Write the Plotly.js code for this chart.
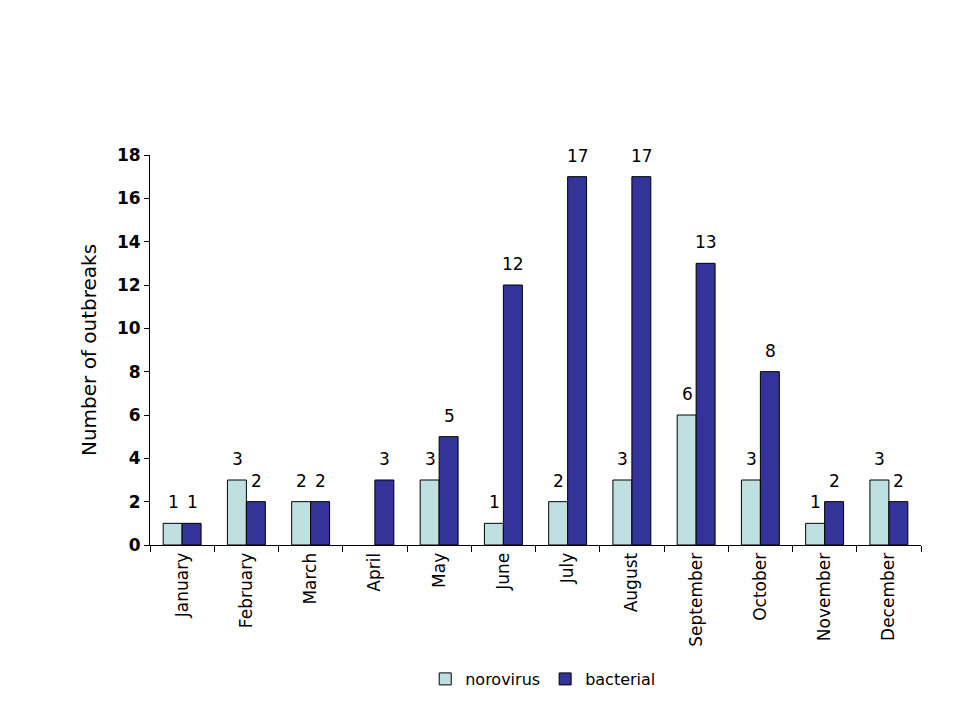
<!DOCTYPE html>
<html><head><meta charset="utf-8">
<script src="https://cdn.plot.ly/plotly-3.0.1.min.js"></script>
<style>body{margin:0;background:#fff}#c{width:960px;height:720px}</style>
</head><body><div id="c"></div>
<script>
const months = ["January","February","March","April","May","June","July","August","September","October","November","December"];
const norovirus = [1,3,2,null,3,1,2,3,6,3,1,3];
const bacterial = [1,2,2,3,5,12,17,17,13,8,2,2];
const yTicks = [0,2,4,6,8,10,12,14,16,18];

const font = "DejaVu Sans, Arial, sans-serif";
const traces = [
  {type:"bar", name:"norovirus", x:months, y:norovirus,
   marker:{color:"#BFE0E0", line:{color:"#000", width:1}}},
  {type:"bar", name:"bacterial", x:months, y:bacterial,
   marker:{color:"#333399", line:{color:"#000", width:1}}}
];
const annotations = [];
[[norovirus,-9.5],[bacterial,9.5]].forEach(([arr,dx])=>{
  arr.forEach((v,i)=>{
    if(v===null) return;
    annotations.push({x:months[i], y:v, xref:"x", yref:"y", text:String(v),
      showarrow:false, xshift:dx+0.5, yshift:9, yanchor:"bottom",
      font:{family:font, size:17, color:"#000"}});
  });
});
const layout = {
  width:960, height:720,
  margin:{l:150, r:39, t:155, b:175},
  paper_bgcolor:"#fff", plot_bgcolor:"#fff",
  barmode:"group", bargap:0.41, bargroupgap:0,
  showlegend:true,
  legend:{orientation:"h", x:0.51, xanchor:"center", y:-0.3, yanchor:"top",
    font:{family:font, size:16, color:"#000"}, itemwidth:30, tracegroupgap:0},
  xaxis:{type:"category", showline:true, linecolor:"#000", linewidth:1,
    ticks:"outside", tickson:"boundaries", ticklen:6, tickcolor:"#000",
    tickangle:-90, tickfont:{family:font, size:17, color:"#000"}, showgrid:false},
  yaxis:{range:[0,18], tickvals:yTicks, ticktext:yTicks.map(String),
    showline:true, linecolor:"#000", linewidth:1, ticks:"outside", ticklen:5, tickcolor:"#000",
    tickfont:{family:font, size:17, color:"#000", weight:"bold"}, showgrid:false, zeroline:false,
    title:{text:"Number of outbreaks", font:{family:font, size:20, color:"#000"}, standoff:14}},
  annotations:annotations
};
Plotly.newPlot("c", traces, layout, {displayModeBar:false, staticPlot:true});
</script></body></html>
